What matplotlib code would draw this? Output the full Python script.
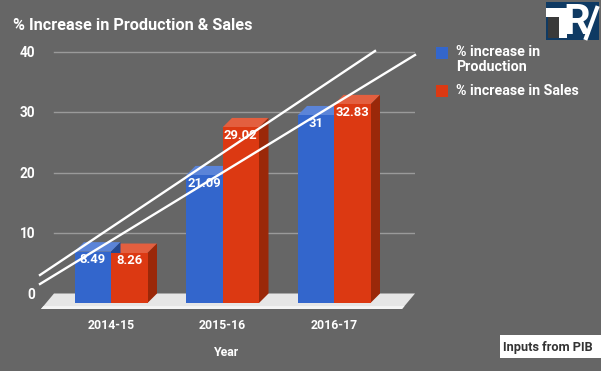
import matplotlib
matplotlib.use("Agg")
import matplotlib.pyplot as plt
from matplotlib.patches import Polygon, Rectangle
from matplotlib.lines import Line2D

plt.rcParams['font.family'] = ['Roboto', 'DejaVu Sans']

years = ['2014-15', '2015-16', '2016-17']
production = [8.49, 21.09, 31]
sales = [8.26, 29.02, 32.83]
prod_labels = ['8.49', '21.09', '31']
sales_labels = ['8.26', '29.02', '32.83']
yticks = [0, 10, 20, 30, 40]

W, H = 601, 371
BG = '#666666'
BLUE, BLUE_TOP = '#3366cc', '#5b84d8'
RED, RED_TOP, RED_SIDE = '#dc3912', '#e35f3f', '#9a2809'

fig = plt.figure(figsize=(W/100, H/100), dpi=100, facecolor=BG)

def figxy(x, y):
    return x/W, 1-y/H

L, R, T, B = 41, 415, 40, 310
ax = fig.add_axes([L/W, 1-B/H, (R-L)/W, (B-T)/H])
ax.set_facecolor('none')
pxu = 111.5
pyu = 6.05
ax.set_xlim((L-111)/pxu, (R-111)/pxu)
ax.set_ylim((303-B)/pyu, (303-T)/pyu)
for s in ax.spines.values():
    s.set_visible(False)
ax.tick_params(length=0, labelbottom=False, labelleft=False)

dx = 9.5/pxu     # depth of the 3D effect, in x units
dy = 9.5/pyu     # and in y units
bw = 36.5/pxu
xr = ax.get_xlim()
yb = ax.get_ylim()[0]

# floor: a parallelogram with a lighter band along its front
fl = yb + 1/pyu
inset = 13/pxu
ax.add_patch(Polygon([(xr[0], fl), (xr[0]+inset, dy), (xr[1], dy), (xr[1]-inset, fl)],
                     fc='#e6e6e6', ec='none', zorder=1))
band = -0.5
frac = (band-fl)/(dy-fl)*inset
ax.add_patch(Polygon([(xr[0], fl), (xr[0]+frac, band), (xr[1]-inset+frac, band), (xr[1]-inset, fl)],
                     fc='#f4f4f4', ec='none', zorder=1.1))

# gridlines on the back plane
for t in yticks[1:]:
    ax.plot([xr[0]+inset, xr[1]], [t+dy, t+dy], color='#9a9a9a', lw=1, zorder=0.5)

def bar3d(x0, v, front, top, side):
    ax.bar(x0+bw/2, v, width=bw, color=front, zorder=3)
    ax.add_patch(Polygon([(x0, v), (x0+dx, v+dy), (x0+bw+dx, v+dy), (x0+bw, v)], fc=top, ec='none', zorder=2))
    ax.add_patch(Polygon([(x0+bw, 0), (x0+bw+dx, dy), (x0+bw+dx, v+dy), (x0+bw, v)], fc=side, ec='none', zorder=2))

for i in range(len(years)):
    bar3d(i, sales[i], RED, RED_TOP, RED_SIDE)
    bar3d(i-bw, production[i], BLUE, BLUE_TOP, '#23478f')
    ax.text(i-bw/2, production[i]-0.2, prod_labels[i], color='white', fontsize=9.4, fontweight='bold',
            ha='center', va='top', zorder=6)
    ax.text(i+bw/2, sales[i]-0.2, sales_labels[i], color='white', fontsize=9.4, fontweight='bold',
            ha='center', va='top', zorder=6)
    ax.text(i, yb-2.6, years[i], color='white', fontsize=8.8, fontweight='bold',
            ha='center', va='center', clip_on=False)

for t in yticks:
    ax.text(xr[0]-6/pxu, t+dy-0.2, str(t), color='white', fontsize=9.8, fontweight='bold',
            ha='right', va='center', clip_on=False)

# annotation strokes
for (x0, y0), (x1, y1) in [((40, 275), (375, 51)), ((40, 284), (415, 55))]:
    fig.add_artist(Line2D(*zip(figxy(x0, y0), figxy(x1, y1)), color='white', lw=1.7, zorder=10))

def txt(x, y, s, **kw):
    kw.setdefault('color', 'white')
    kw.setdefault('fontweight', 'bold')
    kw.setdefault('va', 'center')
    return fig.text(*figxy(x, y), s, **kw)

txt(13, 25, '% Increase in Production & Sales', fontsize=11.7)
txt(227, 352, 'Year', fontsize=8.8, ha='center')

# legend
def sw(x, y, c):
    fig.add_artist(Rectangle(figxy(x, y+12), 12/W, 12/H, transform=fig.transFigure, fc=c, ec='none'))
sw(436, 47, BLUE)
sw(436, 85, RED)
txt(456, 52, '% increase in', fontsize=10.3)
txt(456, 67, 'Production', fontsize=10.3)
txt(456, 91, '% increase in Sales', fontsize=10.3)

# source box
fig.add_artist(Rectangle(figxy(500, 358), 101/W, 23/H, transform=fig.transFigure, fc='white', ec='none', zorder=11))
fig.text(*figxy(503, 347), 'Inputs from PIB', color='#333333', fontweight='bold', fontsize=9.2,
         va='center', zorder=12)

# logo
fig.add_artist(Rectangle(figxy(546, 40), 53/W, 38/H, transform=fig.transFigure, fc='#0f3a63', ec='none', zorder=11))
fig.add_artist(Rectangle(figxy(548, 38), 11/W, 21/H, transform=fig.transFigure, fc='#3a3a3a', ec='none', zorder=12))
fig.add_artist(Rectangle(figxy(546, 17), 23/W, 9/H, transform=fig.transFigure, fc='white', ec='none', zorder=12))
fig.add_artist(Rectangle(figxy(559, 38), 8/W, 21/H, transform=fig.transFigure, fc='white', ec='none', zorder=12))
fig.text(*figxy(577, 22), 'R', color='white', fontweight='bold', fontsize=30, ha='center', va='center', zorder=12)
fig.add_artist(Line2D(*zip(figxy(586, 38), figxy(597, 8)), color='white', lw=3, zorder=13))

fig.savefig('out.png', dpi=100, facecolor=BG)
